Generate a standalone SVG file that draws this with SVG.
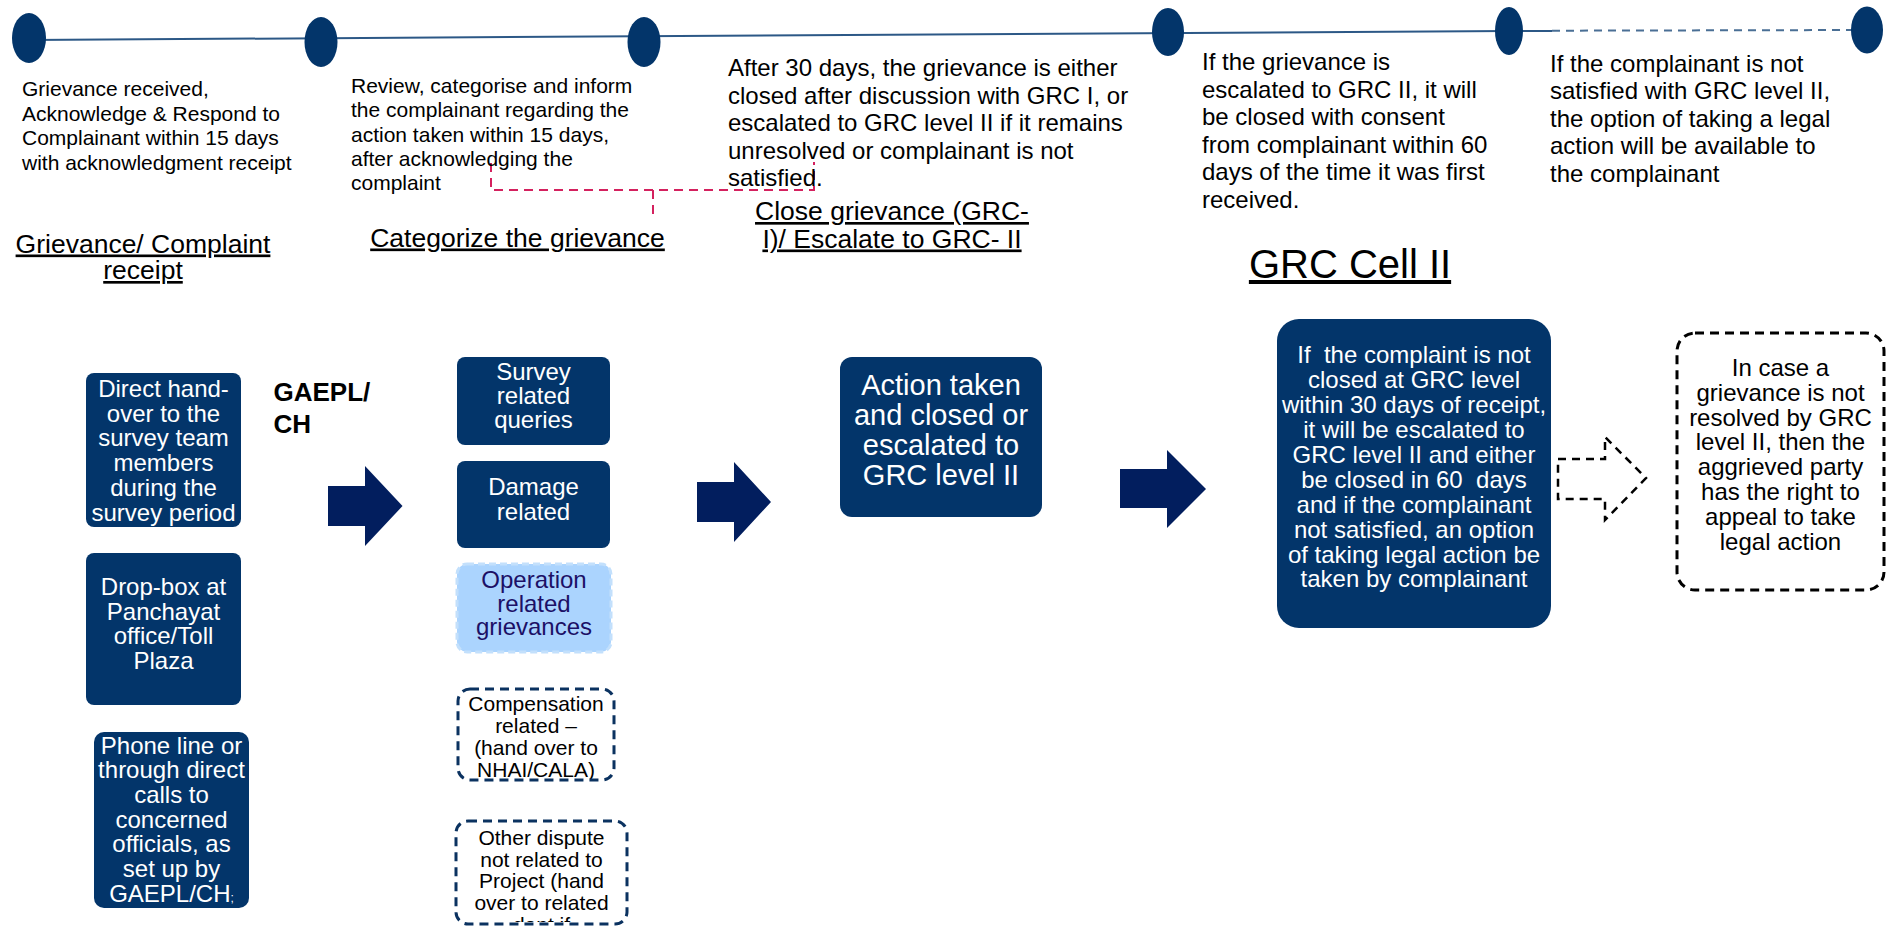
<svg xmlns="http://www.w3.org/2000/svg" width="1892" height="929" viewBox="0 0 1892 929">
<style>
  text { font-family: "Liberation Sans", Arial, sans-serif; }
  .desc { font-size: 21px; fill: #000; }
  .desc24 { font-size: 24px; fill: #000; }
  .head { font-size: 26.5px; fill: #000; text-decoration: underline; text-anchor: middle; }
  .box { fill: #03356A; }
  .wt { font-size: 24px; fill: #fff; text-anchor: middle; }
  .bk { font-size: 24px; fill: #000; text-anchor: middle; }
  .sm { font-size: 21px; fill: #000; text-anchor: middle; }
  .dot { fill: #03356A; }
  .arrow { fill: #021E5E; }
  .dashbox { fill: #fff; stroke: #0B3260; stroke-width: 3; stroke-dasharray: 9 6; }
</style>
<defs>
  <clipPath id="clipOther"><rect x="458" y="823" width="167" height="99" rx="10"/></clipPath>
  <clipPath id="clipComp"><rect x="459" y="690" width="154" height="89" rx="10"/></clipPath>
</defs>

<g id="connectors">
  <line x1="29" y1="40" x2="1509" y2="31" stroke="#2C5886" stroke-width="2"/>
  <line x1="1509" y1="31" x2="1552" y2="31" stroke="#2C5886" stroke-width="2"/>
  <line x1="1552" y1="30.7" x2="1867" y2="30" stroke="#4A6F95" stroke-width="2" stroke-dasharray="8 6"/>
  <polyline points="491,163 491,190 814,190 814,162" fill="none" stroke="#D4215E" stroke-width="2" stroke-dasharray="9 6"/>
  <line x1="653" y1="190" x2="653" y2="217" stroke="#D4215E" stroke-width="2" stroke-dasharray="9 6"/>
  <polygon class="arrow" points="328,486 365,486 365,466 402.5,506 365,546 365,526 328,526"/>
  <polygon class="arrow" points="697,482 734,482 734,462 771,502 734,542 734,522 697,522"/>
  <polygon class="arrow" points="1120,469 1167,469 1167,450 1206,489 1167,528 1167,508 1120,508"/>
  <polygon points="1558,459 1605,459 1605,437 1646,478 1605,520 1605,499 1558,499" fill="#fff" stroke="#000" stroke-width="2.5" stroke-dasharray="8 6"/>
</g>

<g id="timeline">
  <ellipse class="dot" cx="29" cy="38" rx="17" ry="25"/>
  <ellipse class="dot" cx="321" cy="42" rx="16.5" ry="25"/>
  <ellipse class="dot" cx="644" cy="42" rx="16.5" ry="25"/>
  <ellipse class="dot" cx="1168" cy="32" rx="16" ry="24"/>
  <ellipse class="dot" cx="1509" cy="31" rx="14" ry="24"/>
  <ellipse class="dot" cx="1867" cy="30" rx="16" ry="23.5"/>
</g>

<g id="step1-text">
  <text class="desc" x="22" y="96">Grievance received,</text>
  <text class="desc" x="22" y="120.5">Acknowledge &amp; Respond to</text>
  <text class="desc" x="22" y="145">Complainant within 15 days</text>
  <text class="desc" x="22" y="169.5">with acknowledgment receipt</text>
  <text class="head" x="143" y="252.5">Grievance/ Complaint</text>
  <text class="head" x="143" y="279">receipt</text>
</g>

<g id="step2-text">
  <text class="desc" x="351" y="92.7">Review, categorise and inform</text>
  <text class="desc" x="351" y="117.1">the complainant regarding the</text>
  <text class="desc" x="351" y="141.5">action taken within 15 days,</text>
  <text class="desc" x="351" y="165.9">after acknowledging the</text>
  <text class="desc" x="351" y="190.3">complaint</text>
  <text class="head" x="517.5" y="246.5">Categorize the grievance</text>
</g>

<g id="step3-text">
  <text class="desc24" x="728" y="76">After 30 days, the grievance is either</text>
  <text class="desc24" x="728" y="103.5">closed after discussion with GRC I, or</text>
  <text class="desc24" x="728" y="131">escalated to GRC level II if it remains</text>
  <text class="desc24" x="728" y="158.5">unresolved or complainant is not</text>
  <text class="desc24" x="728" y="186">satisfied.</text>
  <text class="head" x="892" y="220">Close grievance (GRC-</text>
  <text class="head" x="892" y="247.5">I)/ Escalate to GRC- II</text>
</g>

<g id="step4-text">
  <text class="desc24" x="1202" y="70">If the grievance is</text>
  <text class="desc24" x="1202" y="97.5">escalated to GRC II, it will</text>
  <text class="desc24" x="1202" y="125">be closed with consent</text>
  <text class="desc24" x="1202" y="152.5">from complainant within 60</text>
  <text class="desc24" x="1202" y="180">days of the time it was first</text>
  <text class="desc24" x="1202" y="207.5">received.</text>
  <text x="1350" y="278" font-size="40" text-anchor="middle" text-decoration="underline" fill="#000">GRC Cell II</text>
</g>

<g id="step5-text">
  <text class="desc24" x="1550" y="71.7">If the complainant is not</text>
  <text class="desc24" x="1550" y="99.2">satisfied with GRC level II,</text>
  <text class="desc24" x="1550" y="126.7">the option of taking a legal</text>
  <text class="desc24" x="1550" y="154.2">action will be available to</text>
  <text class="desc24" x="1550" y="181.7">the complainant</text>
</g>

<g id="node-direct">
  <rect class="box" x="86" y="373" width="155" height="154" rx="8"/>
  <text class="wt" x="163.5" y="396.7">Direct hand-</text>
  <text class="wt" x="163.5" y="421.5">over to the</text>
  <text class="wt" x="163.5" y="446.3">survey team</text>
  <text class="wt" x="163.5" y="471.1">members</text>
  <text class="wt" x="163.5" y="495.9">during the</text>
  <text class="wt" x="163.5" y="520.7">survey period</text>
</g>

<g id="node-dropbox">
  <rect class="box" x="86" y="553" width="155" height="152" rx="8"/>
  <text class="wt" x="163.5" y="595">Drop-box at</text>
  <text class="wt" x="163.5" y="619.5">Panchayat</text>
  <text class="wt" x="163.5" y="644">office/Toll</text>
  <text class="wt" x="163.5" y="668.5">Plaza</text>
</g>

<g id="node-phone">
  <rect class="box" x="94" y="732" width="155" height="176" rx="10"/>
  <text class="wt" x="171.5" y="753.5">Phone line or</text>
  <text class="wt" x="171.5" y="778.2">through direct</text>
  <text class="wt" x="171.5" y="802.9">calls to</text>
  <text class="wt" x="171.5" y="827.6">concerned</text>
  <text class="wt" x="171.5" y="852.3">officials, as</text>
  <text class="wt" x="171.5" y="877">set up by</text>
  <text class="wt" x="171.5" y="901.7">GAEPL/CH<tspan font-size="12">;</tspan></text>
</g>

<g id="label-gaepl">
  <text x="273.5" y="401" font-size="26" font-weight="bold" fill="#000">GAEPL/</text>
  <text x="273.5" y="433" font-size="26" font-weight="bold" fill="#000">CH</text>
</g>

<g id="node-survey">
  <rect class="box" x="457" y="357" width="153" height="88" rx="8"/>
  <text class="wt" x="533.5" y="380">Survey</text>
  <text class="wt" x="533.5" y="404">related</text>
  <text class="wt" x="533.5" y="428">queries</text>
</g>

<g id="node-damage">
  <rect class="box" x="457" y="461" width="153" height="87" rx="8"/>
  <text class="wt" x="533.5" y="495">Damage</text>
  <text class="wt" x="533.5" y="519.5">related</text>
</g>

<g id="node-operation">
  <rect x="457" y="564" width="154" height="88" rx="10" fill="#ABD4FE" stroke="#C3E0FC" stroke-width="3" stroke-dasharray="7 4"/>
  <text class="wt" x="534" y="588" fill="#1C1066" style="fill:#1C1066">Operation</text>
  <text class="wt" x="534" y="611.7" style="fill:#1C1066">related</text>
  <text class="wt" x="534" y="635.4" style="fill:#1C1066">grievances</text>
</g>

<g id="node-compensation">
  <g clip-path="url(#clipComp)">
    <text class="sm" x="536" y="710.7">Compensation</text>
    <text class="sm" x="536" y="732.7">related –</text>
    <text class="sm" x="536" y="754.5">(hand over to</text>
    <text class="sm" x="536" y="776.5">NHAI/CALA)</text>
  </g>
  <rect class="dashbox" x="458" y="689" width="156" height="91" rx="12" style="fill:none"/>
</g>

<g id="node-other">
  <g clip-path="url(#clipOther)">
    <text class="sm" x="541.5" y="845">Other dispute</text>
    <text class="sm" x="541.5" y="866.7">not related to</text>
    <text class="sm" x="541.5" y="888.4">Project (hand</text>
    <text class="sm" x="541.5" y="910.1">over to related</text>
    <text class="sm" x="541.5" y="931.8">dept if</text>
  </g>
  <rect class="dashbox" x="456" y="821" width="171" height="103" rx="12" style="fill:none"/>
</g>

<g id="node-action">
  <rect class="box" x="840" y="357" width="202" height="160" rx="12"/>
  <text class="wt" x="941" y="395" font-size="29" style="font-size:29px">Action taken</text>
  <text class="wt" x="941" y="425" style="font-size:29px">and closed or</text>
  <text class="wt" x="941" y="455" style="font-size:29px">escalated to</text>
  <text class="wt" x="941" y="485" style="font-size:29px">GRC level II</text>
</g>

<g id="node-grc2">
  <rect class="box" x="1277" y="319" width="274" height="309" rx="22"/>
  <text class="wt" x="1414" y="363.3" xml:space="preserve">If  the complaint is not</text>
  <text class="wt" x="1414" y="388.2">closed at GRC level</text>
  <text class="wt" x="1414" y="413.1">within 30 days of receipt,</text>
  <text class="wt" x="1414" y="438">it will be escalated to</text>
  <text class="wt" x="1414" y="462.9">GRC level II and either</text>
  <text class="wt" x="1414" y="487.8" xml:space="preserve">be closed in 60  days</text>
  <text class="wt" x="1414" y="512.7">and if the complainant</text>
  <text class="wt" x="1414" y="537.6">not satisfied, an option</text>
  <text class="wt" x="1414" y="562.5">of taking legal action be</text>
  <text class="wt" x="1414" y="587.4">taken by complainant</text>
</g>

<g id="node-legal">
  <rect x="1677" y="333" width="207" height="257" rx="18" fill="#fff" stroke="#000" stroke-width="3" stroke-dasharray="9 6"/>
  <text class="bk" x="1780.5" y="376">In case a</text>
  <text class="bk" x="1780.5" y="400.8">grievance is not</text>
  <text class="bk" x="1780.5" y="425.6">resolved by GRC</text>
  <text class="bk" x="1780.5" y="450.4">level II, then the</text>
  <text class="bk" x="1780.5" y="475.2">aggrieved party</text>
  <text class="bk" x="1780.5" y="500">has the right to</text>
  <text class="bk" x="1780.5" y="524.8">appeal to take</text>
  <text class="bk" x="1780.5" y="549.6">legal action</text>
</g>
</svg>
